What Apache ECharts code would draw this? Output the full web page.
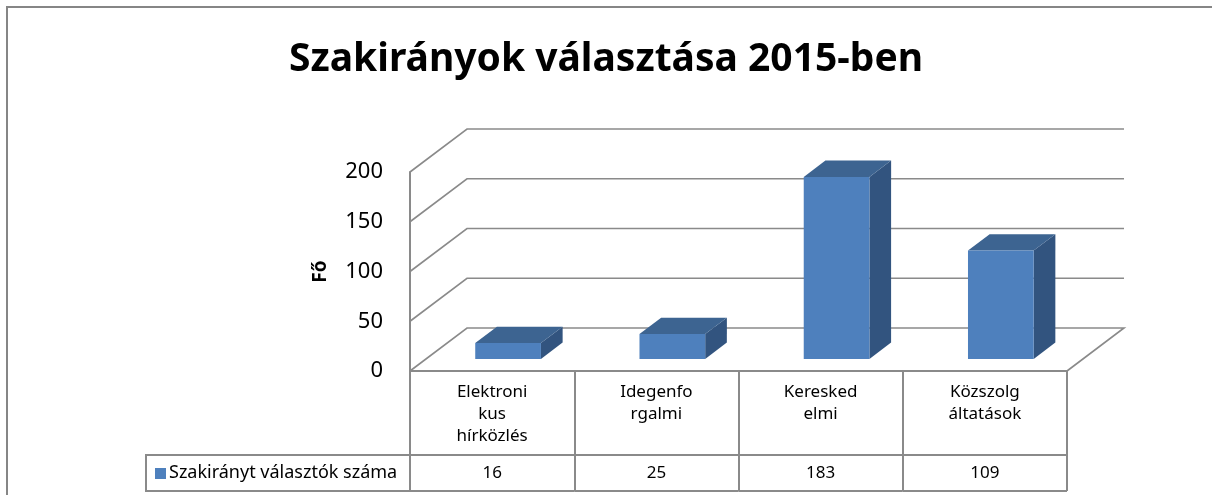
<!DOCTYPE html>
<html>
<head>
<meta charset="utf-8">
<script src="https://cdn.jsdelivr.net/npm/echarts@6/dist/echarts.min.js"></script>
<style>
  html, body { margin: 0; padding: 0; background: #fff; }
  #chart { width: 1212px; height: 495px; }
</style>
</head>
<body>
<div id="chart"></div>
<script>
// chart data
var categories = ['Elektroni\nkus\nhírközlés', 'Idegenfo\nrgalmi', 'Keresked\nelmi', 'Közszolg\náltatások'];
var values = [16, 25, 183, 109];
var yTicks = [0, 50, 100, 150, 200];
var seriesName = 'Szakirányt választók száma';

// 3d look
var DX = 57, DY = -43;          // wall depth in px
var BAR_FRONT = 0.28, BAR_BACK = 0.66;
var GRID_COLOR = '#8a8a8a';
var FONT = 'Noto Sans';

var chart = echarts.init(document.getElementById('chart'));

function renderGridLine (params, api) {
    var cs = params.coordSys;
    var y = api.coord([0, api.value(1)])[1];
    var pts = [[cs.x, y], [cs.x + DX, y + DY], [cs.x + cs.width + DX, y + DY]];
    if (api.value(1) === 0) {
        pts.push([cs.x + cs.width, y]);
    }
    return {
        type: 'polyline',
        shape: { points: pts },
        style: { stroke: GRID_COLOR, lineWidth: 1.6, fill: null }
    };
}

function renderBar (params, api) {
    var i = api.value(0);
    var top = api.coord([i, api.value(1)]);
    var base = api.coord([i, 0]);
    var bw = api.size([1, 0])[0] * 0.4;
    var x1 = top[0] - bw / 2 + DX * BAR_FRONT;
    var yt = top[1] + DY * BAR_FRONT;
    var yb = base[1] + DY * BAR_FRONT;
    var dx = DX * (BAR_BACK - BAR_FRONT), dy = DY * (BAR_BACK - BAR_FRONT);
    return {
        type: 'group',
        children: [
            {
                type: 'polygon',
                shape: { points: [[x1 + bw, yt], [x1 + bw + dx, yt + dy], [x1 + bw + dx, yb + dy], [x1 + bw, yb]] },
                style: { fill: '#32547f' }
            },
            {
                type: 'polygon',
                shape: { points: [[x1, yt], [x1 + bw, yt], [x1 + bw + dx, yt + dy], [x1 + dx, yt + dy]] },
                style: { fill: '#3d6491' }
            },
            {
                type: 'rect',
                shape: { x: x1, y: yt, width: bw, height: yb - yt },
                style: { fill: '#4e80bd' }
            }
        ]
    };
}

function renderTableCell (params, api) {
    var i = api.value(0);
    var base = api.coord([i, 0]);
    var w = api.size([1, 0])[0];
    return {
        type: 'group',
        children: [
            {
                type: 'line',
                shape: { x1: base[0] - w / 2, y1: base[1] + 84, x2: base[0] + w / 2, y2: base[1] + 84 },
                style: { stroke: GRID_COLOR, lineWidth: 2 }
            },
            {
                type: 'line',
                shape: { x1: base[0] - w / 2, y1: base[1] + 120, x2: base[0] + w / 2, y2: base[1] + 120 },
                style: { stroke: GRID_COLOR, lineWidth: 2 }
            },
            {
                type: 'text',
                x: base[0],
                y: base[1] + 102,
                style: {
                    text: String(api.value(1)),
                    fontFamily: FONT,
                    fontSize: 17,
                    fill: '#000',
                    align: 'center',
                    verticalAlign: 'middle'
                }
            }
        ]
    };
}

var option = {
    animation: false,
    title: {
        text: 'Szakirányok választása 2015-ben',
        left: 'center',
        top: 35,
        textStyle: { fontFamily: FONT, fontSize: 39, fontWeight: 'bold', color: '#000' }
    },
    graphic: [
        {
            type: 'rect',
            shape: { x: 7, y: 7, width: 1300, height: 600 },
            style: { fill: null, stroke: '#868686', lineWidth: 2 }
        },
        {
            type: 'rect',
            shape: { x: 146, y: 455, width: 264, height: 36 },
            style: { fill: null, stroke: GRID_COLOR, lineWidth: 2 }
        },
        {
            type: 'rect',
            shape: { x: 155, y: 468, width: 11, height: 11 },
            style: { fill: '#4e80bd' }
        },
        {
            type: 'text',
            x: 169,
            y: 473,
            style: {
                text: seriesName,
                fontFamily: FONT,
                fontSize: 18,
                fill: '#000',
                verticalAlign: 'middle'
            }
        }
    ],
    grid: { left: 410, right: 145, top: 172, bottom: 124 },
    xAxis: {
        type: 'category',
        data: categories,
        axisLine: { lineStyle: { color: GRID_COLOR, width: 2 } },
        axisTick: { show: true, length: 120, lineStyle: { color: GRID_COLOR, width: 2 } },
        axisLabel: {
            margin: 10,
            fontFamily: FONT,
            fontSize: 17,
            lineHeight: 22,
            color: '#000',
            interval: 0
        }
    },
    yAxis: {
        type: 'value',
        min: 0,
        max: 200,
        interval: 50,
        name: 'Fő',
        nameLocation: 'middle',
        nameGap: 80,
        nameTextStyle: { fontFamily: FONT, fontSize: 19, fontWeight: 'bold', color: '#000' },
        axisLine: { show: true, lineStyle: { color: GRID_COLOR, width: 2 } },
        axisTick: { show: false },
        splitLine: { show: false },
        axisLabel: { margin: 27, fontFamily: FONT, fontSize: 22, color: '#000' }
    },
    series: [
        {
            type: 'custom',
            renderItem: renderGridLine,
            data: yTicks.map(function (t) { return [0, t]; }),
            silent: true
        },
        {
            type: 'custom',
            name: seriesName,
            renderItem: renderBar,
            data: values.map(function (v, i) { return [i, v]; })
        },
        {
            type: 'custom',
            renderItem: renderTableCell,
            data: values.map(function (v, i) { return [i, v]; }),
            silent: true
        }
    ]
};

chart.setOption(option);
</script>
</body>
</html>
